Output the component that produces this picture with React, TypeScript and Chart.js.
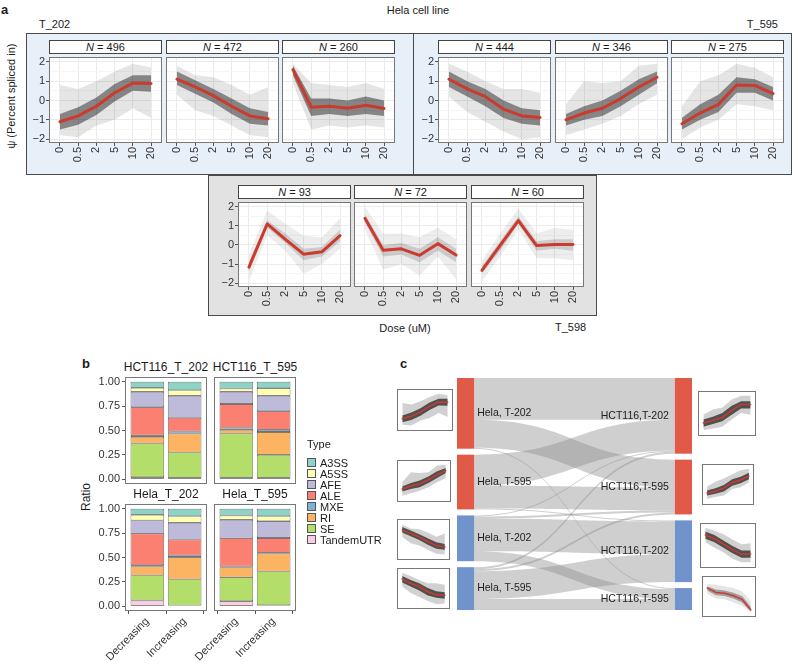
import React, { useEffect, useRef } from "react";
import { Chart, registerables } from "chart.js";

Chart.register(...registerables);

const FONT = '"Liberation Sans", Arial, Helvetica, sans-serif';
Chart.defaults.font.family = FONT;
Chart.defaults.color = "#333";

// ---------------- Panel a: PSI trajectories ----------------
const DOSES = ["0", "0.5", "2", "5", "10", "20"];
const PSI_TICKS = [-2, -1, 0, 1, 2];
const PSI_MINOR = [-1.5, -0.5, 0.5, 1.5];
const CLUSTER_N = [496, 472, 260, 444, 346, 275, 93, 72, 60];

// T_202
const P1_MEAN = [-1.1, -0.8, -0.3, 0.4, 0.9, 0.88];
const P1_HI = [0.8, 0.6, 1.0, 1.5, 1.9, 1.7];
const P1_LO = [-1.8, -1.9, -1.3, -1.0, -0.4, -0.9];
const P1_CORE_HI = [-0.7, -0.35, 0.15, 0.85, 1.3, 1.3];
const P1_CORE_LO = [-1.5, -1.25, -0.75, -0.05, 0.5, 0.45];

const P2_MEAN = [1.1, 0.7, 0.25, -0.3, -0.8, -0.95];
const P2_HI = [1.8, 1.3, 1.2, 0.8, 0.3, 0.7];
const P2_LO = [0.3, -0.5, -0.8, -1.3, -1.8, -1.9];
const P2_CORE_HI = [1.5, 1.05, 0.6, 0.1, -0.4, -0.6];
const P2_CORE_LO = [0.8, 0.35, -0.1, -0.7, -1.2, -1.3];

const P3_MEAN = [1.6, -0.35, -0.3, -0.4, -0.25, -0.42];
const P3_HI = [1.9, 0.9, 0.8, 0.7, 0.9, 0.6];
const P3_LO = [0.9, -1.5, -1.3, -1.4, -1.3, -1.4];
const P3_CORE_HI = [1.8, 0.1, 0.1, 0.0, 0.2, 0.0];
const P3_CORE_LO = [1.3, -0.8, -0.7, -0.8, -0.7, -0.8];

// T_595
const P4_MEAN = [1.1, 0.6, 0.2, -0.45, -0.8, -0.88];
const P4_HI = [1.9, 1.5, 1.0, 0.6, 0.6, 0.4];
const P4_LO = [0.2, -0.6, -1.1, -1.6, -2.0, -1.9];
const P4_CORE_HI = [1.5, 1.0, 0.6, 0.0, -0.4, -0.5];
const P4_CORE_LO = [0.7, 0.2, -0.3, -0.9, -1.2, -1.3];

const P5_MEAN = [-1.0, -0.65, -0.4, 0.1, 0.7, 1.2];
const P5_HI = [-0.2, 1.0, 0.9, 1.0, 1.8, 1.9];
const P5_LO = [-1.8, -1.5, -1.2, -0.8, -0.2, 0.3];
const P5_CORE_HI = [-0.7, -0.3, 0.0, 0.5, 1.1, 1.5];
const P5_CORE_LO = [-1.3, -1.0, -0.8, -0.3, 0.3, 0.9];

const P6_MEAN = [-1.2, -0.65, -0.2, 0.8, 0.78, 0.35];
const P6_HI = [-0.3, 1.0, 1.3, 1.9, 1.7, 1.2];
const P6_LO = [-2.0, -1.4, -1.0, -0.2, -0.3, -0.5];
const P6_CORE_HI = [-0.9, -0.2, 0.3, 1.2, 1.1, 0.7];
const P6_CORE_LO = [-1.5, -1.0, -0.6, 0.4, 0.4, 0.0];

// T_598
const P7_MEAN = [-1.16, 1.1, 0.29, -0.48, -0.36, 0.49];
const P7_HI = [-0.5, 1.8, 1.1, 0.5, 0.4, 1.4];
const P7_LO = [-1.9, 0.5, -0.3, -1.5, -1.0, -0.2];
const P7_CORE_HI = [-0.9, 1.3, 0.6, -0.2, -0.1, 0.8];
const P7_CORE_LO = [-1.4, 0.9, 0.1, -0.8, -0.6, 0.2];

const P8_MEAN = [1.4, -0.27, -0.2, -0.54, 0.07, -0.53];
const P8_HI = [2.0, 0.6, 0.6, 0.4, 0.9, 0.3];
const P8_LO = [0.8, -1.3, -1.0, -1.6, -0.6, -1.8];
const P8_CORE_HI = [1.6, 0.0, 0.1, -0.2, 0.4, -0.2];
const P8_CORE_LO = [1.2, -0.6, -0.5, -0.9, -0.3, -0.9];

const P9_MEAN = [-1.33, -0.02, 1.28, -0.03, 0.03, 0.02];
const P9_HI = [-0.8, 0.6, 1.9, 0.6, 0.9, 0.8];
const P9_LO = [-1.9, -0.6, 0.8, -0.7, -0.7, -0.8];
const P9_CORE_HI = [-1.1, 0.2, 1.5, 0.2, 0.3, 0.3];
const P9_CORE_LO = [-1.5, -0.3, 1.1, -0.3, -0.2, -0.3];

// HCT116 thumbnails (panel c, right)
const H1_MEAN = [-1.1, -0.8, -0.5, 0.3, 0.95, 0.95];
const H1_HI = [-0.2, 0.4, 0.6, 1.5, 1.9, 1.9];
const H1_LO = [-1.9, -1.7, -1.5, -0.7, 0.0, -0.2];
const H1_CORE_HI = [-0.7, -0.4, 0.0, 0.8, 1.3, 1.3];
const H1_CORE_LO = [-1.5, -1.2, -0.9, -0.2, 0.5, 0.5];

const H2_MEAN = [-1.1, -0.9, -0.5, 0.2, 0.5, 1.0];
const H2_HI = [-0.3, 0.3, 0.7, 1.2, 1.7, 1.9];
const H2_LO = [-1.8, -1.6, -1.4, -0.6, -0.4, 0.2];
const H2_CORE_HI = [-0.8, -0.5, -0.1, 0.6, 0.9, 1.4];
const H2_CORE_LO = [-1.4, -1.2, -0.9, -0.2, 0.1, 0.6];

const H3_MEAN = [1.1, 0.7, 0.1, -0.5, -1.0, -1.0];
const H3_HI = [1.9, 1.6, 1.2, 0.6, 0.1, 0.2];
const H3_LO = [0.3, -0.3, -0.8, -1.5, -1.9, -1.9];
const H3_CORE_HI = [1.5, 1.1, 0.5, -0.1, -0.6, -0.6];
const H3_CORE_LO = [0.7, 0.3, -0.3, -0.9, -1.4, -1.4];

const H4_MEAN = [1.0, 0.45, 0.35, 0.05, -0.4, -1.7];
const H4_HI = [1.5, 1.4, 1.2, 1.0, 0.6, -0.6];
const H4_LO = [0.3, -0.3, -0.4, -0.8, -1.2, -2.0];
const H4_CORE_HI = [1.2, 0.8, 0.7, 0.4, 0.0, -1.3];
const H4_CORE_LO = [0.7, 0.1, 0.0, -0.3, -0.8, -1.9];

// ---------------- Panel b: event type ratios ----------------
const FACETS = ["HCT116_T_202", "HCT116_T_595", "Hela_T_202", "Hela_T_595"];
const TRENDS = ["Decreasing", "Increasing"];
const RATIO_TICKS = [0, 0.25, 0.5, 0.75, 1];
// order per array: facet1 Dec, facet1 Inc, facet2 Dec, facet2 Inc, ...
const TANDEMUTR = [0.02, 0.015, 0.015, 0.015, 0.058, 0.006, 0.05, 0.01];
const SE = [0.346, 0.26, 0.453, 0.235, 0.258, 0.269, 0.246, 0.347];
const RI = [0.068, 0.193, 0.04, 0.235, 0.092, 0.228, 0.102, 0.183];
const MXE = [0.016, 0.022, 0.022, 0.023, 0.012, 0.017, 0.01, 0.01];
const ALE = [0.289, 0.14, 0.243, 0.19, 0.325, 0.164, 0.289, 0.15];
const AFE = [0.159, 0.228, 0.125, 0.16, 0.135, 0.173, 0.191, 0.174];
const A5SS = [0.041, 0.057, 0.034, 0.078, 0.06, 0.068, 0.044, 0.051];
const A3SS = [0.061, 0.085, 0.068, 0.064, 0.06, 0.075, 0.068, 0.075];
const TYPE_NAMES = ["A3SS", "A5SS", "AFE", "ALE", "MXE", "RI", "SE", "TandemUTR"];
const TYPE_VALUES = [A3SS, A5SS, AFE, ALE, MXE, RI, SE, TANDEMUTR];
const TYPE_COLORS = ["#8DD3C7", "#FFFFB3", "#BEBADA", "#FB8072", "#80B1D3", "#FDB462", "#B3DE69", "#FCCDE5"];

// ---------------- Panel c: sankey ----------------
const SANKEY_LEFT = ["Hela, T-202", "Hela, T-595", "Hela, T-202", "Hela, T-595"];
const SANKEY_RIGHT = ["HCT116,T-202", "HCT116,T-595", "HCT116,T-202", "HCT116,T-595"];
const SANKEY_TREND = ["Increasing", "Increasing", "Decreasing", "Decreasing"];
const FLOW_FROM = [0, 0, 0, 1, 1, 1, 2, 2, 2, 2, 3, 3, 3, 3];
const FLOW_TO = [0, 1, 3, 0, 1, 2, 0, 1, 2, 3, 0, 1, 2, 3];
const FLOW_SIZE = [42, 28, 1, 31, 23, 1, 1, 2, 33, 10, 2, 2, 28, 11];

// ---------------- styling ----------------
const RED = "#CC3A2E";
const INC_COLOR = "#E05A47";
const DEC_COLOR = "#7093CB";
const NODE_W = 0.073;
const NODE_GAP = 6;

const panelBox = {
  id: "panelBox",
  beforeDraw(chart: any, _a: any, opts: any) {
    const { ctx, chartArea: a } = chart;
    if (opts && opts.fill) {
      ctx.save();
      ctx.fillStyle = opts.fill;
      ctx.fillRect(a.left, a.top, a.right - a.left, a.bottom - a.top);
      ctx.restore();
    }
  },
  afterDraw(chart: any, _a: any, opts: any) {
    const { ctx, chartArea: a } = chart;
    if (opts && opts.stroke) {
      ctx.save();
      ctx.strokeStyle = opts.stroke;
      ctx.lineWidth = 1;
      ctx.strokeRect(a.left + 0.5, a.top + 0.5, a.right - a.left - 1, a.bottom - a.top - 1);
      ctx.restore();
    }
  },
};

function trendConfig(p: any) {
  const pts = (arr: number[]) => arr.map((y, i) => ({ x: i, y }));
  const band = (arr: number[], fill: any, color: string, order: number) => ({
    data: pts(arr),
    borderColor: "rgba(0,0,0,0)",
    borderWidth: 0,
    pointRadius: 0,
    fill,
    backgroundColor: color,
    order,
  });
  const isMajor = (v: number) => Number.isInteger(v);
  return {
    type: "line",
    data: {
      datasets: [
        band(p.lo, false, "rgba(0,0,0,0)", 4),
        band(p.hi, "-1", p.outer, 3),
        band(p.coreLo, false, "rgba(0,0,0,0)", 2),
        band(p.coreHi, "-1", p.core, 1),
        {
          data: pts(p.mean),
          borderColor: RED,
          borderWidth: p.lw,
          pointRadius: 0,
          fill: false,
          borderJoinStyle: "round",
          borderCapStyle: "round",
          order: 0,
        },
      ],
    },
    options: {
      responsive: false,
      animation: false,
      events: [],
      layout: { padding: 0 },
      plugins: {
        legend: { display: false },
        tooltip: { enabled: false },
        panelBox: { fill: "#fff", stroke: p.thumb ? null : "#777" },
      },
      scales: {
        x: {
          type: "linear",
          min: p.thumb ? -0.25 : -0.6,
          max: p.thumb ? 5.25 : 5.6,
          display: !p.thumb,
          afterBuildTicks: (s: any) => {
            s.ticks = DOSES.map((_, i) => ({ value: i }));
          },
          ticks: {
            autoSkip: false,
            maxRotation: 90,
            minRotation: 90,
            padding: 1,
            font: { size: 11 },
            color: "#333",
            callback: (v: number) => DOSES[v],
          },
          grid: { color: "#EBEBEB", drawTicks: true, tickLength: 3, tickColor: "#555" },
          border: { display: false },
          afterFit: (s: any) => {
            s.height = p.xAxisH;
            s.paddingLeft = 0;
            s.paddingRight = 0;
          },
        },
        y: {
          min: -2.2,
          max: p.thumb ? 2.1 : 2.25,
          display: !p.thumb,
          afterBuildTicks: (s: any) => {
            s.ticks = [...PSI_TICKS, ...PSI_MINOR].sort((a, b) => a - b).map((v) => ({ value: v }));
          },
          ticks: {
            autoSkip: false,
            display: p.showY,
            padding: 1,
            font: { size: 11 },
            color: "#333",
            callback: (v: number) => (isMajor(v) ? String(v).replace("-", "\u2212") : ""),
          },
          grid: {
            color: (c: any) => (c.tick && isMajor(c.tick.value) ? "#EBEBEB" : "#F6F6F6"),
            drawTicks: p.showY,
            tickLength: 3,
            tickColor: (c: any) => (c.tick && isMajor(c.tick.value) ? "#555" : "rgba(0,0,0,0)"),
          },
          border: { display: false },
          afterFit: (s: any) => {
            s.width = p.yAxisW;
            s.paddingTop = 0;
            s.paddingBottom = 0;
          },
        },
      },
    },
    plugins: [panelBox],
  };
}

function ratioConfig(facet: number, showY: boolean, showX: boolean, yAxisW: number, xAxisH: number) {
  const stackOrder = [7, 6, 5, 4, 3, 2, 1, 0]; // TandemUTR at the bottom, A3SS on top
  return {
    type: "bar",
    data: {
      datasets: stackOrder.map((k) => ({
        label: TYPE_NAMES[k],
        data: TRENDS.map((_, j) => ({ x: j + 1, y: TYPE_VALUES[k][facet * 2 + j] })),
        backgroundColor: TYPE_COLORS[k],
        borderColor: "#333",
        borderWidth: 0.7,
        borderSkipped: false,
        categoryPercentage: 1,
        barPercentage: 0.9,
      })),
    },
    options: {
      responsive: false,
      animation: false,
      events: [],
      layout: { padding: 0 },
      plugins: { legend: { display: false }, tooltip: { enabled: false }, panelBox: { fill: "#fff", stroke: "#777" } },
      scales: {
        x: {
          type: "linear",
          stacked: true,
          offset: false,
          min: 0.4,
          max: 2.6,
          afterBuildTicks: (s: any) => {
            s.ticks = TRENDS.map((_, j) => ({ value: j + 1 }));
          },
          ticks: {
            display: showX,
            autoSkip: false,
            maxRotation: 45,
            minRotation: 45,
            padding: 1,
            font: { size: 11 },
            color: "#333",
            callback: (v: number) => TRENDS[v - 1],
          },
          grid: { drawOnChartArea: false, drawTicks: showX, tickLength: 3, tickColor: "#555" },
          border: { display: false },
          afterFit: (s: any) => {
            s.height = xAxisH;
            s.paddingLeft = 0;
            s.paddingRight = 0;
          },
        },
        y: {
          stacked: true,
          min: -0.05,
          max: 1.05,
          afterBuildTicks: (s: any) => {
            s.ticks = RATIO_TICKS.map((v) => ({ value: v }));
          },
          ticks: {
            display: showY,
            autoSkip: false,
            padding: 2,
            font: { size: 11 },
            color: "#333",
            callback: (v: number) => v.toFixed(2),
          },
          grid: { drawOnChartArea: false, drawTicks: showY, tickLength: 3, tickColor: "#555" },
          border: { display: false },
          afterFit: (s: any) => {
            s.width = yAxisW;
            s.paddingTop = 0;
            s.paddingBottom = 0;
          },
        },
      },
    },
    plugins: [panelBox],
  };
}

function sankeyConfig() {
  const sumBy = (keys: number[], i: number) => FLOW_SIZE.reduce((s, v, k) => s + (keys[k] === i ? v : 0), 0);
  const leftTot = SANKEY_LEFT.map((_, i) => sumBy(FLOW_FROM, i));
  const rightTot = SANKEY_RIGHT.map((_, i) => sumBy(FLOW_TO, i));
  const stackY = (tot: number[]) => {
    const ys: number[] = [];
    let y = 0;
    tot.forEach((t) => {
      ys.push(y);
      y += t + NODE_GAP;
    });
    return ys;
  };
  const leftY = stackY(leftTot);
  const rightY = stackY(rightTot);
  const total = leftTot.reduce((a, b) => a + b, 0) + NODE_GAP * (SANKEY_LEFT.length - 1);
  const idx = FLOW_SIZE.map((_, k) => k);
  const outOff = [...leftY];
  const inOff = [...rightY];
  const startL: number[] = [];
  const startR: number[] = [];
  idx
    .slice()
    .sort((a, b) => FLOW_FROM[a] - FLOW_FROM[b] || FLOW_TO[a] - FLOW_TO[b])
    .forEach((k) => {
      startL[k] = outOff[FLOW_FROM[k]];
      outOff[FLOW_FROM[k]] += FLOW_SIZE[k];
    });
  idx
    .slice()
    .sort((a, b) => FLOW_TO[a] - FLOW_TO[b] || FLOW_FROM[a] - FLOW_FROM[b])
    .forEach((k) => {
      startR[k] = inOff[FLOW_TO[k]];
      inOff[FLOW_TO[k]] += FLOW_SIZE[k];
    });
  const nodeColor = (i: number) => (SANKEY_TREND[i] === "Increasing" ? INC_COLOR : DEC_COLOR);

  const plugin = {
    id: "sankeyDraw",
    afterDraw(chart: any) {
      const { ctx } = chart;
      const x = chart.scales.x;
      const y = chart.scales.y;
      const x0 = x.getPixelForValue(NODE_W);
      const x1 = x.getPixelForValue(1 - NODE_W);
      const xm = (x0 + x1) / 2;
      ctx.save();
      ctx.fillStyle = "rgba(140,140,140,0.42)";
      idx.forEach((k) => {
        const a0 = y.getPixelForValue(startL[k]);
        const a1 = y.getPixelForValue(startL[k] + FLOW_SIZE[k]);
        const b0 = y.getPixelForValue(startR[k]);
        const b1 = y.getPixelForValue(startR[k] + FLOW_SIZE[k]);
        ctx.beginPath();
        ctx.moveTo(x0, a0);
        ctx.bezierCurveTo(xm, a0, xm, b0, x1, b0);
        ctx.lineTo(x1, b1);
        ctx.bezierCurveTo(xm, b1, xm, a1, x0, a1);
        ctx.closePath();
        ctx.fill();
      });
      SANKEY_LEFT.forEach((_, i) => {
        const t = y.getPixelForValue(leftY[i]);
        const b = y.getPixelForValue(leftY[i] + leftTot[i]);
        ctx.fillStyle = nodeColor(i);
        ctx.fillRect(x.getPixelForValue(0), t, x0 - x.getPixelForValue(0), b - t);
      });
      SANKEY_RIGHT.forEach((_, i) => {
        const t = y.getPixelForValue(rightY[i]);
        const b = y.getPixelForValue(rightY[i] + rightTot[i]);
        ctx.fillStyle = nodeColor(i);
        ctx.fillRect(x1, t, x.getPixelForValue(1) - x1, b - t);
      });
      ctx.fillStyle = "#222";
      ctx.font = `10.5px ${FONT}`;
      ctx.textBaseline = "middle";
      ctx.textAlign = "left";
      SANKEY_LEFT.forEach((name, i) => {
        ctx.fillText(name, x0 + 3, y.getPixelForValue(leftY[i] + leftTot[i] / 2));
      });
      ctx.textAlign = "right";
      SANKEY_RIGHT.forEach((name, i) => {
        ctx.fillText(name, x1 - 6, y.getPixelForValue(rightY[i] + rightTot[i] / 2));
      });
      ctx.restore();
    },
  };

  return {
    type: "scatter",
    data: { datasets: [{ data: [] as any[] }] },
    options: {
      responsive: false,
      animation: false,
      events: [],
      layout: { padding: 0 },
      plugins: { legend: { display: false }, tooltip: { enabled: false } },
      scales: {
        x: { type: "linear", display: false, min: 0, max: 1 },
        y: { type: "linear", display: false, min: 0, max: total, reverse: true },
      },
    },
    plugins: [plugin],
  };
}

function ChartCanvas({ left, top, width, height, make }: any) {
  const ref = useRef<HTMLCanvasElement | null>(null);
  useEffect(() => {
    if (!ref.current) return;
    const chart = new Chart(ref.current, make());
    return () => chart.destroy();
  }, []);
  return (
    <canvas
      ref={ref}
      width={width}
      height={height}
      style={{ position: "absolute", left, top, width, height, display: "block" }}
    />
  );
}

function Label({ x, y, children, size = 11, anchor = "start", weight = 400, rotate = 0, color = "#1a1a1a" }: any) {
  const tx = anchor === "middle" ? "-50%" : anchor === "end" ? "-100%" : "0%";
  return (
    <div
      style={{
        position: "absolute",
        left: x,
        top: y,
        transform: `translate(${tx}, -50%) rotate(${rotate}deg)`,
        font: `${weight} ${size}px ${FONT}`,
        lineHeight: 1,
        whiteSpace: "nowrap",
        color,
      }}
    >
      {children}
    </div>
  );
}

const boxStyle = (left: number, top: number, width: number, height: number, bg: string): any => ({
  position: "absolute",
  left,
  top,
  width,
  height,
  background: bg,
  border: "1px solid #4a4a4a",
  boxSizing: "border-box",
});

const PANELS_A = [
  { left: 49, top: 57, h: 86, n: 0, showY: true, s: [P1_MEAN, P1_HI, P1_LO, P1_CORE_HI, P1_CORE_LO] },
  { left: 166, top: 57, h: 86, n: 1, showY: false, s: [P2_MEAN, P2_HI, P2_LO, P2_CORE_HI, P2_CORE_LO] },
  { left: 282, top: 57, h: 86, n: 2, showY: false, s: [P3_MEAN, P3_HI, P3_LO, P3_CORE_HI, P3_CORE_LO] },
  { left: 438, top: 57, h: 86, n: 3, showY: true, s: [P4_MEAN, P4_HI, P4_LO, P4_CORE_HI, P4_CORE_LO] },
  { left: 555, top: 57, h: 86, n: 4, showY: false, s: [P5_MEAN, P5_HI, P5_LO, P5_CORE_HI, P5_CORE_LO] },
  { left: 671, top: 57, h: 86, n: 5, showY: false, s: [P6_MEAN, P6_HI, P6_LO, P6_CORE_HI, P6_CORE_LO] },
  { left: 238, top: 202, h: 85, n: 6, showY: true, faint: true, s: [P7_MEAN, P7_HI, P7_LO, P7_CORE_HI, P7_CORE_LO] },
  { left: 354, top: 202, h: 85, n: 7, showY: false, faint: true, s: [P8_MEAN, P8_HI, P8_LO, P8_CORE_HI, P8_CORE_LO] },
  { left: 471, top: 202, h: 85, n: 8, showY: false, faint: true, s: [P9_MEAN, P9_HI, P9_LO, P9_CORE_HI, P9_CORE_LO] },
];
const PANEL_W = 113;
const Y_AXIS_W = 24;
const X_AXIS_H = 26;

const THUMBS = [
  { left: 397, top: 389, w: 56, h: 42, s: [P1_MEAN, P1_HI, P1_LO, P1_CORE_HI, P1_CORE_LO] },
  { left: 397, top: 460, w: 54, h: 42, s: [P5_MEAN, P5_HI, P5_LO, P5_CORE_HI, P5_CORE_LO] },
  { left: 397, top: 519, w: 53, h: 41, s: [P2_MEAN, P2_HI, P2_LO, P2_CORE_HI, P2_CORE_LO] },
  { left: 397, top: 568, w: 53, h: 41, s: [P4_MEAN, P4_HI, P4_LO, P4_CORE_HI, P4_CORE_LO] },
  { left: 698, top: 391, w: 58, h: 45, s: [H1_MEAN, H1_HI, H1_LO, H1_CORE_HI, H1_CORE_LO] },
  { left: 702, top: 464, w: 52, h: 41, s: [H2_MEAN, H2_HI, H2_LO, H2_CORE_HI, H2_CORE_LO] },
  { left: 700, top: 523, w: 56, h: 45, s: [H3_MEAN, H3_HI, H3_LO, H3_CORE_HI, H3_CORE_LO] },
  { left: 702, top: 576, w: 54, h: 41, faint: true, s: [H4_MEAN, H4_HI, H4_LO, H4_CORE_HI, H4_CORE_LO] },
];

const PANELS_B = [
  { left: 125, top: 377, facet: 0, showY: true, showX: false },
  { left: 214, top: 377, facet: 1, showY: false, showX: false },
  { left: 125, top: 504, facet: 2, showY: true, showX: true },
  { left: 214, top: 504, facet: 3, showY: false, showX: true },
];
const B_W = 82;
const B_H = 107;
const B_Y_AXIS_W = 40;
const B_X_AXIS_H = 52;

export default function App() {
  return (
    <div
      style={{
        position: "absolute",
        left: 0,
        top: 0,
        width: 798,
        height: 664,
        overflow: "hidden",
        background: "#fff",
        fontFamily: FONT,
      }}
    >
      {/* ---------- panel a ---------- */}
      <div style={boxStyle(26, 33, 388, 142, "#E7EFF9")} />
      <div style={boxStyle(413, 33, 379, 142, "#E7EFF9")} />
      <div style={boxStyle(208, 175, 389, 141, "#E2E2E2")} />

      <Label x={1} y={9} size={13} weight={700}>a</Label>
      <Label x={418} y={10} anchor="middle">Hela cell line</Label>
      <Label x={39} y={24}>T_202</Label>
      <Label x={778} y={24} anchor="end">T_595</Label>
      <Label x={555} y={327}>T_598</Label>
      <Label x={405} y={328} anchor="middle">Dose (uM)</Label>
      <Label x={11} y={96} anchor="middle" rotate={-90}>ψ (Percent spliced in)</Label>

      {PANELS_A.map((p, i) => {
        const yw = p.showY ? Y_AXIS_W : 0;
        return (
          <React.Fragment key={"a" + i}>
            <div
              style={{
                position: "absolute",
                left: p.left,
                top: p.top - 17,
                width: PANEL_W,
                height: 14,
                boxSizing: "border-box",
                border: "1px solid #444",
                background: "#fff",
                font: `11px ${FONT}`,
                lineHeight: "12px",
                textAlign: "center",
                color: "#1a1a1a",
              }}
            >
              <span style={{ fontStyle: "italic" }}>N</span> = {CLUSTER_N[p.n]}
            </div>
            <ChartCanvas
              left={p.left - yw}
              top={p.top}
              width={PANEL_W + yw}
              height={p.h + X_AXIS_H}
              make={() =>
                trendConfig({
                  mean: p.s[0],
                  hi: p.s[1],
                  lo: p.s[2],
                  coreHi: p.s[3],
                  coreLo: p.s[4],
                  outer: p.faint ? "rgba(0,0,0,0.07)" : "rgba(0,0,0,0.10)",
                  core: p.faint ? "rgba(0,0,0,0.14)" : "rgba(0,0,0,0.42)",
                  lw: 3,
                  showY: p.showY,
                  yAxisW: yw,
                  xAxisH: X_AXIS_H,
                  thumb: false,
                })
              }
            />
          </React.Fragment>
        );
      })}

      {/* ---------- panel b ---------- */}
      <Label x={82} y={363} size={13} weight={700}>b</Label>
      <Label x={86} y={497} size={12} anchor="middle" rotate={-90}>Ratio</Label>
      {PANELS_B.map((p, i) => {
        const xh = p.showX ? B_X_AXIS_H : 0;
        return (
          <React.Fragment key={"b" + i}>
            <Label x={p.left + B_W / 2} y={p.top - 10} size={12} anchor="middle">
              {FACETS[p.facet]}
            </Label>
            <ChartCanvas
              left={p.left - B_Y_AXIS_W}
              top={p.top}
              width={B_W + B_Y_AXIS_W}
              height={B_H + xh}
              make={() => ratioConfig(p.facet, p.showY, p.showX, B_Y_AXIS_W, xh)}
            />
          </React.Fragment>
        );
      })}
      <Label x={307} y={444}>Type</Label>
      {TYPE_NAMES.map((t, i) => (
        <React.Fragment key={"lg" + i}>
          <div
            style={{
              position: "absolute",
              left: 307,
              top: 458 + i * 11,
              width: 9,
              height: 9,
              boxSizing: "border-box",
              border: "1px solid #555",
              background: TYPE_COLORS[i],
            }}
          />
          <Label x={320} y={463 + i * 11}>{t}</Label>
        </React.Fragment>
      ))}

      {/* ---------- panel c ---------- */}
      <Label x={400} y={363} size={13} weight={700}>c</Label>
      <ChartCanvas left={457} top={378} width={235} height={232} make={() => sankeyConfig()} />
      {THUMBS.map((t, i) => (
        <div
          key={"t" + i}
          style={{
            position: "absolute",
            left: t.left,
            top: t.top,
            width: t.w,
            height: t.h,
            boxSizing: "border-box",
            border: "1px solid #777",
            background: "#fff",
          }}
        >
          <ChartCanvas
            left={2}
            top={2}
            width={t.w - 6}
            height={t.h - 6}
            make={() =>
              trendConfig({
                mean: t.s[0],
                hi: t.s[1],
                lo: t.s[2],
                coreHi: t.s[3],
                coreLo: t.s[4],
                outer: t.faint ? "rgba(0,0,0,0.10)" : "rgba(0,0,0,0.18)",
                core: t.faint ? "rgba(0,0,0,0.30)" : "rgba(0,0,0,0.62)",
                lw: 1.5,
                showY: false,
                yAxisW: 0,
                xAxisH: 0,
                thumb: true,
              })
            }
          />
        </div>
      ))}
    </div>
  );
}
